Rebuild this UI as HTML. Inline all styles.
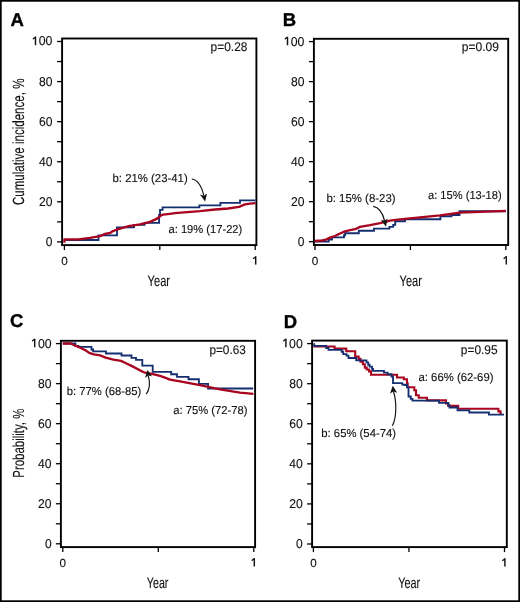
<!DOCTYPE html><html><head><meta charset="utf-8"><style>html,body{margin:0;padding:0;background:#fff;width:520px;height:602px;overflow:hidden}svg{display:block;will-change:transform}</style></head><body><svg width="520" height="602" viewBox="0 0 520 602" text-rendering="geometricPrecision" font-family='"Liberation Sans", sans-serif'>
<rect x="0" y="0" width="520" height="602" fill="#fff"/>
<rect x="62.1" y="38.5" width="194.30" height="206.60" fill="none" stroke="#000" stroke-width="1.9"/>
<line x1="57.10" y1="241.90" x2="62.10" y2="241.90" stroke="#000" stroke-width="1.3"/>
<text x="45.70" y="245.85" font-size="12.8" text-anchor="start" font-weight="normal" fill="#111" textLength="6.699999999999999" lengthAdjust="spacingAndGlyphs" stroke="#111" stroke-width="0.12">0</text>
<line x1="57.10" y1="221.86" x2="62.10" y2="221.86" stroke="#000" stroke-width="1.3"/>
<line x1="57.10" y1="201.82" x2="62.10" y2="201.82" stroke="#000" stroke-width="1.3"/>
<text x="38.90" y="205.77" font-size="12.8" text-anchor="start" font-weight="normal" fill="#111" textLength="13.5" lengthAdjust="spacingAndGlyphs" stroke="#111" stroke-width="0.12">20</text>
<line x1="57.10" y1="181.78" x2="62.10" y2="181.78" stroke="#000" stroke-width="1.3"/>
<line x1="57.10" y1="161.74" x2="62.10" y2="161.74" stroke="#000" stroke-width="1.3"/>
<text x="38.90" y="165.69" font-size="12.8" text-anchor="start" font-weight="normal" fill="#111" textLength="13.5" lengthAdjust="spacingAndGlyphs" stroke="#111" stroke-width="0.12">40</text>
<line x1="57.10" y1="141.70" x2="62.10" y2="141.70" stroke="#000" stroke-width="1.3"/>
<line x1="57.10" y1="121.66" x2="62.10" y2="121.66" stroke="#000" stroke-width="1.3"/>
<text x="38.90" y="125.61" font-size="12.8" text-anchor="start" font-weight="normal" fill="#111" textLength="13.5" lengthAdjust="spacingAndGlyphs" stroke="#111" stroke-width="0.12">60</text>
<line x1="57.10" y1="101.62" x2="62.10" y2="101.62" stroke="#000" stroke-width="1.3"/>
<line x1="57.10" y1="81.58" x2="62.10" y2="81.58" stroke="#000" stroke-width="1.3"/>
<text x="38.90" y="85.53" font-size="12.8" text-anchor="start" font-weight="normal" fill="#111" textLength="13.5" lengthAdjust="spacingAndGlyphs" stroke="#111" stroke-width="0.12">80</text>
<line x1="57.10" y1="61.54" x2="62.10" y2="61.54" stroke="#000" stroke-width="1.3"/>
<line x1="57.10" y1="41.50" x2="62.10" y2="41.50" stroke="#000" stroke-width="1.3"/>
<path d="M35.50,36.75 V45.15" stroke="#111" stroke-width="1.45" fill="none"/>
<path d="M33.30,38.75 L35.30,37.25" stroke="#111" stroke-width="1.3" stroke-linecap="round" fill="none"/>
<text x="38.70" y="45.45" font-size="12.8" text-anchor="start" font-weight="normal" fill="#111" textLength="13.7" lengthAdjust="spacingAndGlyphs" stroke="#111" stroke-width="0.12">00</text>
<line x1="64.40" y1="245.10" x2="64.40" y2="250.10" stroke="#000" stroke-width="1.3"/>
<line x1="159.80" y1="245.10" x2="159.80" y2="250.10" stroke="#000" stroke-width="1.3"/>
<line x1="255.20" y1="245.10" x2="255.20" y2="250.10" stroke="#000" stroke-width="1.3"/>

<text x="10.5" y="25.6" font-size="18.5" text-anchor="start" font-weight="bold" fill="#000" stroke="#000" stroke-width="0.35">A</text>
<rect x="313.9" y="38.8" width="194.30" height="206.20" fill="none" stroke="#000" stroke-width="1.9"/>
<line x1="308.90" y1="241.70" x2="313.90" y2="241.70" stroke="#000" stroke-width="1.3"/>
<text x="297.70" y="245.65" font-size="12.8" text-anchor="start" font-weight="normal" fill="#111" textLength="6.699999999999999" lengthAdjust="spacingAndGlyphs" stroke="#111" stroke-width="0.12">0</text>
<line x1="308.90" y1="221.69" x2="313.90" y2="221.69" stroke="#000" stroke-width="1.3"/>
<line x1="308.90" y1="201.68" x2="313.90" y2="201.68" stroke="#000" stroke-width="1.3"/>
<text x="290.90" y="205.63" font-size="12.8" text-anchor="start" font-weight="normal" fill="#111" textLength="13.5" lengthAdjust="spacingAndGlyphs" stroke="#111" stroke-width="0.12">20</text>
<line x1="308.90" y1="181.67" x2="313.90" y2="181.67" stroke="#000" stroke-width="1.3"/>
<line x1="308.90" y1="161.66" x2="313.90" y2="161.66" stroke="#000" stroke-width="1.3"/>
<text x="290.90" y="165.61" font-size="12.8" text-anchor="start" font-weight="normal" fill="#111" textLength="13.5" lengthAdjust="spacingAndGlyphs" stroke="#111" stroke-width="0.12">40</text>
<line x1="308.90" y1="141.65" x2="313.90" y2="141.65" stroke="#000" stroke-width="1.3"/>
<line x1="308.90" y1="121.64" x2="313.90" y2="121.64" stroke="#000" stroke-width="1.3"/>
<text x="290.90" y="125.59" font-size="12.8" text-anchor="start" font-weight="normal" fill="#111" textLength="13.5" lengthAdjust="spacingAndGlyphs" stroke="#111" stroke-width="0.12">60</text>
<line x1="308.90" y1="101.63" x2="313.90" y2="101.63" stroke="#000" stroke-width="1.3"/>
<line x1="308.90" y1="81.62" x2="313.90" y2="81.62" stroke="#000" stroke-width="1.3"/>
<text x="290.90" y="85.57" font-size="12.8" text-anchor="start" font-weight="normal" fill="#111" textLength="13.5" lengthAdjust="spacingAndGlyphs" stroke="#111" stroke-width="0.12">80</text>
<line x1="308.90" y1="61.61" x2="313.90" y2="61.61" stroke="#000" stroke-width="1.3"/>
<line x1="308.90" y1="41.60" x2="313.90" y2="41.60" stroke="#000" stroke-width="1.3"/>
<path d="M287.50,36.85 V45.25" stroke="#111" stroke-width="1.45" fill="none"/>
<path d="M285.30,38.85 L287.30,37.35" stroke="#111" stroke-width="1.3" stroke-linecap="round" fill="none"/>
<text x="290.70" y="45.55" font-size="12.8" text-anchor="start" font-weight="normal" fill="#111" textLength="13.7" lengthAdjust="spacingAndGlyphs" stroke="#111" stroke-width="0.12">00</text>
<line x1="315.00" y1="245.00" x2="315.00" y2="250.00" stroke="#000" stroke-width="1.3"/>
<line x1="410.40" y1="245.00" x2="410.40" y2="250.00" stroke="#000" stroke-width="1.3"/>
<line x1="505.80" y1="245.00" x2="505.80" y2="250.00" stroke="#000" stroke-width="1.3"/>

<text x="282.8" y="25.9" font-size="18.5" text-anchor="start" font-weight="bold" fill="#000" stroke="#000" stroke-width="0.35">B</text>
<rect x="60.9" y="340.8" width="194.20" height="206.30" fill="none" stroke="#000" stroke-width="1.9"/>
<line x1="55.90" y1="543.80" x2="60.90" y2="543.80" stroke="#000" stroke-width="1.3"/>
<text x="44.90" y="547.75" font-size="12.8" text-anchor="start" font-weight="normal" fill="#111" textLength="6.699999999999999" lengthAdjust="spacingAndGlyphs" stroke="#111" stroke-width="0.12">0</text>
<line x1="55.90" y1="523.78" x2="60.90" y2="523.78" stroke="#000" stroke-width="1.3"/>
<line x1="55.90" y1="503.76" x2="60.90" y2="503.76" stroke="#000" stroke-width="1.3"/>
<text x="38.10" y="507.71" font-size="12.8" text-anchor="start" font-weight="normal" fill="#111" textLength="13.5" lengthAdjust="spacingAndGlyphs" stroke="#111" stroke-width="0.12">20</text>
<line x1="55.90" y1="483.74" x2="60.90" y2="483.74" stroke="#000" stroke-width="1.3"/>
<line x1="55.90" y1="463.72" x2="60.90" y2="463.72" stroke="#000" stroke-width="1.3"/>
<text x="38.10" y="467.67" font-size="12.8" text-anchor="start" font-weight="normal" fill="#111" textLength="13.5" lengthAdjust="spacingAndGlyphs" stroke="#111" stroke-width="0.12">40</text>
<line x1="55.90" y1="443.70" x2="60.90" y2="443.70" stroke="#000" stroke-width="1.3"/>
<line x1="55.90" y1="423.68" x2="60.90" y2="423.68" stroke="#000" stroke-width="1.3"/>
<text x="38.10" y="427.63" font-size="12.8" text-anchor="start" font-weight="normal" fill="#111" textLength="13.5" lengthAdjust="spacingAndGlyphs" stroke="#111" stroke-width="0.12">60</text>
<line x1="55.90" y1="403.66" x2="60.90" y2="403.66" stroke="#000" stroke-width="1.3"/>
<line x1="55.90" y1="383.64" x2="60.90" y2="383.64" stroke="#000" stroke-width="1.3"/>
<text x="38.10" y="387.59" font-size="12.8" text-anchor="start" font-weight="normal" fill="#111" textLength="13.5" lengthAdjust="spacingAndGlyphs" stroke="#111" stroke-width="0.12">80</text>
<line x1="55.90" y1="363.62" x2="60.90" y2="363.62" stroke="#000" stroke-width="1.3"/>
<line x1="55.90" y1="343.60" x2="60.90" y2="343.60" stroke="#000" stroke-width="1.3"/>
<path d="M34.70,338.85 V347.25" stroke="#111" stroke-width="1.45" fill="none"/>
<path d="M32.50,340.85 L34.50,339.35" stroke="#111" stroke-width="1.3" stroke-linecap="round" fill="none"/>
<text x="37.90" y="347.55" font-size="12.8" text-anchor="start" font-weight="normal" fill="#111" textLength="13.7" lengthAdjust="spacingAndGlyphs" stroke="#111" stroke-width="0.12">00</text>
<line x1="62.80" y1="547.10" x2="62.80" y2="552.10" stroke="#000" stroke-width="1.3"/>
<line x1="158.30" y1="547.10" x2="158.30" y2="552.10" stroke="#000" stroke-width="1.3"/>
<line x1="253.80" y1="547.10" x2="253.80" y2="552.10" stroke="#000" stroke-width="1.3"/>

<text x="10.0" y="327.1" font-size="18.5" text-anchor="start" font-weight="bold" fill="#000" stroke="#000" stroke-width="0.35">C</text>
<rect x="312.1" y="340.6" width="194.70" height="206.50" fill="none" stroke="#000" stroke-width="1.9"/>
<line x1="307.10" y1="544.00" x2="312.10" y2="544.00" stroke="#000" stroke-width="1.3"/>
<text x="296.10" y="547.95" font-size="12.8" text-anchor="start" font-weight="normal" fill="#111" textLength="6.699999999999999" lengthAdjust="spacingAndGlyphs" stroke="#111" stroke-width="0.12">0</text>
<line x1="307.10" y1="523.96" x2="312.10" y2="523.96" stroke="#000" stroke-width="1.3"/>
<line x1="307.10" y1="503.92" x2="312.10" y2="503.92" stroke="#000" stroke-width="1.3"/>
<text x="289.30" y="507.87" font-size="12.8" text-anchor="start" font-weight="normal" fill="#111" textLength="13.5" lengthAdjust="spacingAndGlyphs" stroke="#111" stroke-width="0.12">20</text>
<line x1="307.10" y1="483.88" x2="312.10" y2="483.88" stroke="#000" stroke-width="1.3"/>
<line x1="307.10" y1="463.84" x2="312.10" y2="463.84" stroke="#000" stroke-width="1.3"/>
<text x="289.30" y="467.79" font-size="12.8" text-anchor="start" font-weight="normal" fill="#111" textLength="13.5" lengthAdjust="spacingAndGlyphs" stroke="#111" stroke-width="0.12">40</text>
<line x1="307.10" y1="443.80" x2="312.10" y2="443.80" stroke="#000" stroke-width="1.3"/>
<line x1="307.10" y1="423.76" x2="312.10" y2="423.76" stroke="#000" stroke-width="1.3"/>
<text x="289.30" y="427.71" font-size="12.8" text-anchor="start" font-weight="normal" fill="#111" textLength="13.5" lengthAdjust="spacingAndGlyphs" stroke="#111" stroke-width="0.12">60</text>
<line x1="307.10" y1="403.72" x2="312.10" y2="403.72" stroke="#000" stroke-width="1.3"/>
<line x1="307.10" y1="383.68" x2="312.10" y2="383.68" stroke="#000" stroke-width="1.3"/>
<text x="289.30" y="387.63" font-size="12.8" text-anchor="start" font-weight="normal" fill="#111" textLength="13.5" lengthAdjust="spacingAndGlyphs" stroke="#111" stroke-width="0.12">80</text>
<line x1="307.10" y1="363.64" x2="312.10" y2="363.64" stroke="#000" stroke-width="1.3"/>
<line x1="307.10" y1="343.60" x2="312.10" y2="343.60" stroke="#000" stroke-width="1.3"/>
<path d="M285.90,338.85 V347.25" stroke="#111" stroke-width="1.45" fill="none"/>
<path d="M283.70,340.85 L285.70,339.35" stroke="#111" stroke-width="1.3" stroke-linecap="round" fill="none"/>
<text x="289.10" y="347.55" font-size="12.8" text-anchor="start" font-weight="normal" fill="#111" textLength="13.7" lengthAdjust="spacingAndGlyphs" stroke="#111" stroke-width="0.12">00</text>
<line x1="313.40" y1="547.10" x2="313.40" y2="552.10" stroke="#000" stroke-width="1.3"/>
<line x1="408.95" y1="547.10" x2="408.95" y2="552.10" stroke="#000" stroke-width="1.3"/>
<line x1="504.50" y1="547.10" x2="504.50" y2="552.10" stroke="#000" stroke-width="1.3"/>

<text x="283.7" y="327.5" font-size="18.5" text-anchor="start" font-weight="bold" fill="#000" stroke="#000" stroke-width="0.35">D</text>
<text x="64.40" y="265.0" font-size="11.7" text-anchor="middle" font-weight="normal" fill="#111" stroke="#111" stroke-width="0.12">0</text>
<text x="315.00" y="264.8" font-size="11.7" text-anchor="middle" font-weight="normal" fill="#111" stroke="#111" stroke-width="0.12">0</text>
<text x="62.80" y="567.0" font-size="11.7" text-anchor="middle" font-weight="normal" fill="#111" stroke="#111" stroke-width="0.12">0</text>
<text x="313.40" y="567.0" font-size="11.7" text-anchor="middle" font-weight="normal" fill="#111" stroke="#111" stroke-width="0.12">0</text>
<path d="M255.70,256.40 V264.60" stroke="#111" stroke-width="1.45" fill="none"/>
<path d="M253.50,258.40 L255.50,256.90" stroke="#111" stroke-width="1.3" stroke-linecap="round" fill="none"/>
<path d="M506.30,256.30 V264.50" stroke="#111" stroke-width="1.45" fill="none"/>
<path d="M504.10,258.30 L506.10,256.80" stroke="#111" stroke-width="1.3" stroke-linecap="round" fill="none"/>
<path d="M254.30,558.30 V566.50" stroke="#111" stroke-width="1.45" fill="none"/>
<path d="M252.10,560.30 L254.10,558.80" stroke="#111" stroke-width="1.3" stroke-linecap="round" fill="none"/>
<path d="M504.90,558.40 V566.60" stroke="#111" stroke-width="1.45" fill="none"/>
<path d="M502.70,560.40 L504.70,558.90" stroke="#111" stroke-width="1.3" stroke-linecap="round" fill="none"/>
<text x="147.6" y="286.1" font-size="15.3" text-anchor="start" font-weight="normal" fill="#111" textLength="22.4" lengthAdjust="spacingAndGlyphs" stroke="#111" stroke-width="0.12">Year</text>
<text x="399.6" y="286.1" font-size="15.3" text-anchor="start" font-weight="normal" fill="#111" textLength="22.3" lengthAdjust="spacingAndGlyphs" stroke="#111" stroke-width="0.12">Year</text>
<text x="146.8" y="587.7" font-size="15.3" text-anchor="start" font-weight="normal" fill="#111" textLength="21.6" lengthAdjust="spacingAndGlyphs" stroke="#111" stroke-width="0.12">Year</text>
<text x="398.2" y="587.7" font-size="15.3" text-anchor="start" font-weight="normal" fill="#111" textLength="21.9" lengthAdjust="spacingAndGlyphs" stroke="#111" stroke-width="0.12">Year</text>
<text x="0" y="0" font-size="16.2" fill="#111" stroke="#111" stroke-width="0.12" textLength="126.4" lengthAdjust="spacingAndGlyphs" transform="translate(24,205) rotate(-90)">Cumulative incidence, %</text>
<text x="0" y="0" font-size="16" fill="#111" stroke="#111" stroke-width="0.12" textLength="69" lengthAdjust="spacingAndGlyphs" transform="translate(23.7,477.7) rotate(-90)">Probability, %</text>
<text x="210.6" y="51.2" font-size="12.6" text-anchor="start" font-weight="normal" fill="#111" textLength="36.8" lengthAdjust="spacingAndGlyphs" stroke="#111" stroke-width="0.12">p=0.28</text>
<text x="461.8" y="51.2" font-size="12.6" text-anchor="start" font-weight="normal" fill="#111" textLength="37.2" lengthAdjust="spacingAndGlyphs" stroke="#111" stroke-width="0.12">p=0.09</text>
<text x="209.4" y="353.6" font-size="12.6" text-anchor="start" font-weight="normal" fill="#111" textLength="36.4" lengthAdjust="spacingAndGlyphs" stroke="#111" stroke-width="0.12">p=0.63</text>
<text x="460.8" y="353.6" font-size="12.6" text-anchor="start" font-weight="normal" fill="#111" textLength="36.8" lengthAdjust="spacingAndGlyphs" stroke="#111" stroke-width="0.12">p=0.95</text>
<text x="112.5" y="182.0" font-size="11.5" text-anchor="start" font-weight="normal" fill="#111" textLength="75.2" lengthAdjust="spacingAndGlyphs" stroke="#111" stroke-width="0.12">b: 21% (23-41)</text>
<text x="168.5" y="233.2" font-size="11.5" text-anchor="start" font-weight="normal" fill="#111" textLength="73.8" lengthAdjust="spacingAndGlyphs" stroke="#111" stroke-width="0.12">a: 19% (17-22)</text>
<text x="326.4" y="202.3" font-size="11.5" text-anchor="start" font-weight="normal" fill="#111" textLength="69.2" lengthAdjust="spacingAndGlyphs" stroke="#111" stroke-width="0.12">b: 15% (8-23)</text>
<text x="428.0" y="199.0" font-size="11.5" text-anchor="start" font-weight="normal" fill="#111" textLength="73.6" lengthAdjust="spacingAndGlyphs" stroke="#111" stroke-width="0.12">a: 15% (13-18)</text>
<text x="66.7" y="395.0" font-size="11.5" text-anchor="start" font-weight="normal" fill="#111" textLength="74.6" lengthAdjust="spacingAndGlyphs" stroke="#111" stroke-width="0.12">b: 77% (68-85)</text>
<text x="173.3" y="414.4" font-size="11.5" text-anchor="start" font-weight="normal" fill="#111" textLength="74.2" lengthAdjust="spacingAndGlyphs" stroke="#111" stroke-width="0.12">a: 75% (72-78)</text>
<text x="321.3" y="436.7" font-size="11.5" text-anchor="start" font-weight="normal" fill="#111" textLength="74.7" lengthAdjust="spacingAndGlyphs" stroke="#111" stroke-width="0.12">b: 65% (54-74)</text>
<text x="418.5" y="381.3" font-size="11.5" text-anchor="start" font-weight="normal" fill="#111" textLength="75.0" lengthAdjust="spacingAndGlyphs" stroke="#111" stroke-width="0.12">a: 66% (62-69)</text>
<path d="M64.4,240 H98.5 V235.3 H117 V227.3 H134 V224.8 H144.6 V222.9 H159.1 V215 H160 V209.8 H162.6 V207.3 H199.4 V205.3 H220.4 V202.8 H240 V200.4 H255.5" fill="none" stroke="#132f70" stroke-width="1.85" stroke-linejoin="miter" stroke-linecap="butt"/>
<path d="M64.40,242.80 L64.40,239.40 L78.50,239.30 L90.00,237.80 L100.00,236.20 L105.00,233.90 L110.00,233.00 L113.00,231.10 L117.00,229.50 L120.00,228.60 L125.00,227.20 L130.00,225.90 L140.00,224.30 L150.00,221.90 L155.00,219.60 L158.60,217.60 L161.00,215.30 L163.00,214.60 L170.00,213.80 L175.00,213.20 L200.00,211.20 L215.00,209.50 L228.00,208.50 L239.00,206.80 L245.00,204.40 L250.00,203.60 L255.50,203.10" fill="none" stroke="#a80420" stroke-width="2.35" stroke-linejoin="round" stroke-linecap="butt"/>
<path d="M315,241.6 H328.7 V239.6 H332 V237.3 H344 V235.2 H345.1 V233.2 H358.8 V230.7 H374 V228.6 H389.4 V226.8 H393.2 V224.9 H395.2 V221.2 H405 V219.2 H440.4 V216.2 H451.5 V215 H459.5 V211.2 H505.8" fill="none" stroke="#132f70" stroke-width="1.85" stroke-linejoin="miter" stroke-linecap="butt"/>
<path d="M315.00,241.00 L322.00,240.50 L326.00,239.60 L330.00,237.60 L335.00,236.00 L340.00,233.50 L345.00,231.40 L350.00,230.20 L355.00,229.20 L360.00,226.90 L370.00,225.20 L380.00,223.20 L390.00,220.60 L400.00,219.30 L420.00,217.40 L440.00,215.30 L460.00,212.60 L480.00,211.90 L505.80,210.90" fill="none" stroke="#a80420" stroke-width="2.35" stroke-linejoin="round" stroke-linecap="butt"/>
<path d="M62.8,343.5 H75.4 V345.8 H78.5 V346.9 H91.5 V349.5 H93.2 V351.3 H106 V353.5 H121.5 V355.5 H131.5 V357.8 H136 V359.8 H142.3 V365.6 H152.7 V371.9 H171.2 V374.2 H177 V376.9 H188.5 V379.2 H198.9 V383.9 H208.1 V388.5 H253.2" fill="none" stroke="#132f70" stroke-width="1.85" stroke-linejoin="miter" stroke-linecap="butt"/>
<path d="M62.80,343.50 L70.80,343.50 L75.40,345.70 L80.80,348.00 L85.40,350.30 L89.20,352.90 L93.80,354.40 L100.00,355.40 L105.70,357.60 L113.40,359.60 L121.00,360.90 L125.00,362.70 L131.00,365.60 L138.00,369.30 L140.00,370.40 L145.00,372.70 L152.00,373.80 L160.00,375.80 L165.00,377.70 L170.00,379.60 L180.00,381.40 L200.00,385.20 L220.00,389.30 L240.00,392.60 L253.40,393.80" fill="none" stroke="#a80420" stroke-width="2.35" stroke-linejoin="round" stroke-linecap="butt"/>
<path d="M313.4,346.5 H334.6 V348.6 H346.3 V351.2 H355.2 V356.5 H358.6 V358.9 H360.5 V361.8 H362.9 V364.2 H364.8 V367.6 H366.7 V369.5 H369.1 V371.4 H371 V374.7 H397 V377.5 H403.8 V379.3 H407 V383.5 H407.7 V387.3 H414.3 V390.2 H416 V395.2 H418.7 V397.7 H427 V400.4 H446 V403.5 H448.3 V405.9 H458.2 V408.8 H498.4 V411.4 H500.5 V413.5 H501.8" fill="none" stroke="#a80420" stroke-width="2.1" stroke-linejoin="miter" stroke-linecap="butt"/>
<path d="M314.2,343.3 V345.8 H326.2 V348 H328.5 V349.8 H341.7 V351.7 H343.2 V354.1 H346.5 V355.6 H348.5 V358 H356.2 V360.4 H366.5 V362.3 H368.2 V364.7 H369.6 V366.6 H372 V368.8 H373 V370.8 H384 V372.6 H387.7 V374.2 H391.5 V376.5 H393 V383.1 H402.3 V384.6 H404.6 V385 H407 V387.3 H408.5 V396.5 H410.8 V398.8 H412.5 V400.6 H439 V402.9 H448.3 V405.2 H449.5 V407.5 H457.5 V410.3 H469.3 V412.5 H488.9 V414.6 H504" fill="none" stroke="#132f70" stroke-width="1.85" stroke-linejoin="miter" stroke-linecap="butt"/>
<path d="M191.8,179.0 C196.5,179.8 201,183.5 203.84,195.66" fill="none" stroke="#111" stroke-width="1.15"/>
<path d="M205.1,201.6 L199.92,194.58 L203.84,195.66 L207.04,193.39 Z" fill="#111"/>
<path d="M373.2,206.4 C378,207.2 382.5,212.5 384.61,220.76" fill="none" stroke="#111" stroke-width="1.15"/>
<path d="M386.0,226.7 L380.92,219.79 L384.61,220.76 L387.51,218.38 Z" fill="#111"/>
<path d="M146.2,394.2 C150.8,388 149.8,381 148.26,375.56" fill="none" stroke="#111" stroke-width="1.15"/>
<path d="M147.5,370.0 L145.02,377.99 L148.26,375.56 L151.93,376.26 Z" fill="#111"/>
<path d="M392.4,425.8 C397,417 396.5,400 393.39,391.53" fill="none" stroke="#111" stroke-width="1.15"/>
<path d="M392.8,385.8 L389.99,393.58 L393.39,391.53 L397.12,392.71 Z" fill="#111"/>
<rect x="0.85" y="0.85" width="518.3" height="600.3" fill="none" stroke="#000" stroke-width="1.7"/>
</svg></body></html>
